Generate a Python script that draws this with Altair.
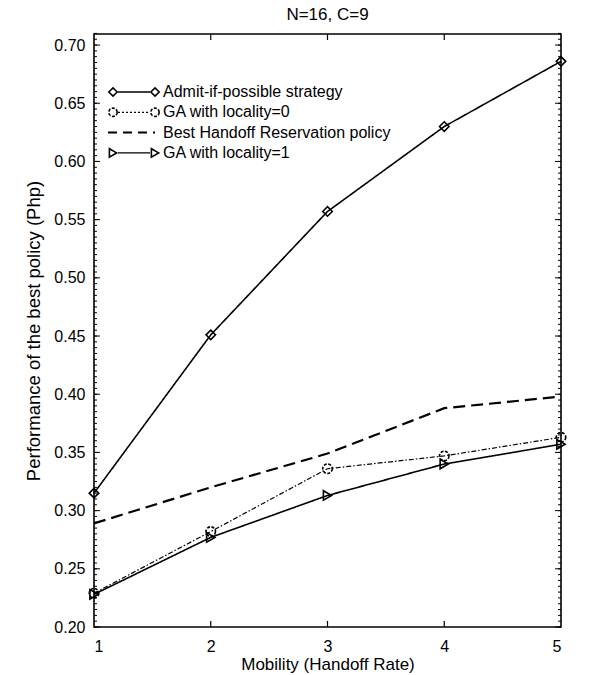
import altair as alt
import pandas as pd

# ---- data ----
mobility = [1, 2, 3, 4, 5]
admit = [0.315, 0.451, 0.557, 0.630, 0.686]
ga_loc0 = [0.229, 0.282, 0.336, 0.347, 0.363]
best_hr = [0.289, 0.320, 0.349, 0.388, 0.398]
ga_loc1 = [0.228, 0.277, 0.313, 0.340, 0.357]

series_names = [
    "Admit-if-possible strategy",
    "GA with locality=0",
    "Best Handoff Reservation policy",
    "GA with locality=1",
]
y_major = [0.20, 0.25, 0.30, 0.35, 0.40, 0.45, 0.50, 0.55, 0.60, 0.65, 0.70]
y_minor = [round(0.20 + 0.005 * i, 3) for i in range(103)]
x_ticks = [2, 3, 4]

FONT = "Liberation Sans"
W, H = 467, 593
Y_DOM = [0.2, 0.7095]

rows = []
for name, vals in zip(series_names, [admit, ga_loc0, best_hr, ga_loc1]):
    for m, v in zip(mobility, vals):
        rows.append({"series": name, "x": m, "y": v})
df = pd.DataFrame(rows)

xs = alt.Scale(domain=[1, 5], nice=False, zero=False)
ys = alt.Scale(domain=Y_DOM, nice=False, zero=False)

x_axis = alt.Axis(values=mobility, format="d", ticks=False, domain=False, grid=False,
                  labelFont=FONT, labelFontSize=16, labelColor="black", labelPadding=11,
                  title="Mobility (Handoff Rate)", titleFont=FONT, titleFontSize=17,
                  titleFontWeight="normal", titleColor="black", titlePadding=2)
y_axis = alt.Axis(values=y_major, format=".2f", ticks=False, domain=False, grid=False,
                  labelFont=FONT, labelFontSize=16, labelColor="black", labelPadding=9,
                  title="Performance of the best policy (Php)", titleFont=FONT,
                  titleFontSize=18.5, titleFontWeight="normal", titleColor="black",
                  titlePadding=10)

def line_layer(name, dash, width, shape, shape_dash=None):
    d = df[df.series == name]
    base = alt.Chart(d)
    ln = base.mark_line(color="black", strokeDash=dash, strokeWidth=width).encode(
        x=alt.X("x:Q", scale=xs, axis=x_axis),
        y=alt.Y("y:Q", scale=ys, axis=y_axis),
    )
    layers = [ln]
    if shape:
        pt_kwargs = dict(shape=shape, filled=False, color="black", size=90,
                         strokeWidth=1.6, opacity=1)
        if shape_dash:
            pt_kwargs["strokeDash"] = shape_dash
        pt = base.mark_point(**pt_kwargs).encode(
            x=alt.X("x:Q", scale=xs), y=alt.Y("y:Q", scale=ys))
        layers.append(pt)
    return layers

layers = []
layers += line_layer(series_names[0], [1, 0], 1.6, "diamond")
layers += line_layer(series_names[1], [5, 2, 1.5, 2], 1.2, "circle", [3, 1.5])
layers += line_layer(series_names[2], [12, 6], 2.2, None)
layers += line_layer(series_names[3], [1, 0], 1.6, "triangle-right")

# ticks (inward) from tick value arrays
ymin_df = pd.DataFrame({"y": y_minor})
ymaj_df = pd.DataFrame({"y": y_major})
xt_df = pd.DataFrame({"x": x_ticks})
for xv, x2v in [(0, 3), (W, W - 3)]:
    layers.append(alt.Chart(ymin_df).mark_rule(color="black", strokeWidth=1).encode(
        y=alt.Y("y:Q", scale=ys), x=alt.value(xv), x2=alt.value(x2v)))
for xv, x2v in [(0, 6), (W, W - 6)]:
    layers.append(alt.Chart(ymaj_df).mark_rule(color="black", strokeWidth=1).encode(
        y=alt.Y("y:Q", scale=ys), x=alt.value(xv), x2=alt.value(x2v)))
for yv, y2v in [(0, 6), (H, H - 6)]:
    layers.append(alt.Chart(xt_df).mark_rule(color="black", strokeWidth=1.2).encode(
        x=alt.X("x:Q", scale=xs), y=alt.value(yv), y2=alt.value(y2v)))

# legend (manual)
leg_x0, leg_x1, leg_tx = 19, 61, 69
leg_y0, leg_dy = 58, 20.3
leg_styles = [
    ([1, 0], 1.4, "diamond", None),
    ([2, 2], 1.2, "circle", [3, 1.5]),
    ([9, 6], 2.0, None, None),
    ([1, 0], 1.4, "triangle-right", None),
]
for i, (name, (dash, width, shape, sdash)) in enumerate(zip(series_names, leg_styles)):
    yy = leg_y0 + i * leg_dy
    one = pd.DataFrame({"label": [name]})
    if shape:
        lx0, lx1 = leg_x0 + 5, leg_x1 - 5
    else:
        lx0, lx1 = leg_x0 - 5, leg_x1
    layers.append(alt.Chart(one).mark_rule(color="black", strokeDash=dash, strokeWidth=width).encode(
        x=alt.value(lx0), x2=alt.value(lx1), y=alt.value(yy)))
    if shape:
        kw = dict(shape=shape, filled=False, color="black", size=70, strokeWidth=1.6, opacity=1)
        if sdash:
            kw["strokeDash"] = sdash
        for px in (leg_x0, leg_x1):
            layers.append(alt.Chart(one).mark_point(**kw).encode(
                x=alt.value(px), y=alt.value(yy)))
    layers.append(alt.Chart(one).mark_text(align="left", baseline="middle", font=FONT,
                                           fontSize=16, color="black").encode(
        x=alt.value(leg_tx), y=alt.value(yy), text="label:N"))

chart = alt.layer(*layers).properties(
    width=W, height=H,
    title=alt.TitleParams("N=16, C=9", font=FONT, fontSize=17, fontWeight="normal",
                          color="black", offset=9),
    autosize=alt.AutoSizeParams(type="none"),
    padding={"left": 94, "top": 34, "right": 600 - 94 - W, "bottom": 675 - 34 - H},
).configure(background="white").configure_view(stroke="black", strokeWidth=1.6)

chart.save("out.html", embed_options={"renderer": "svg", "actions": False})
